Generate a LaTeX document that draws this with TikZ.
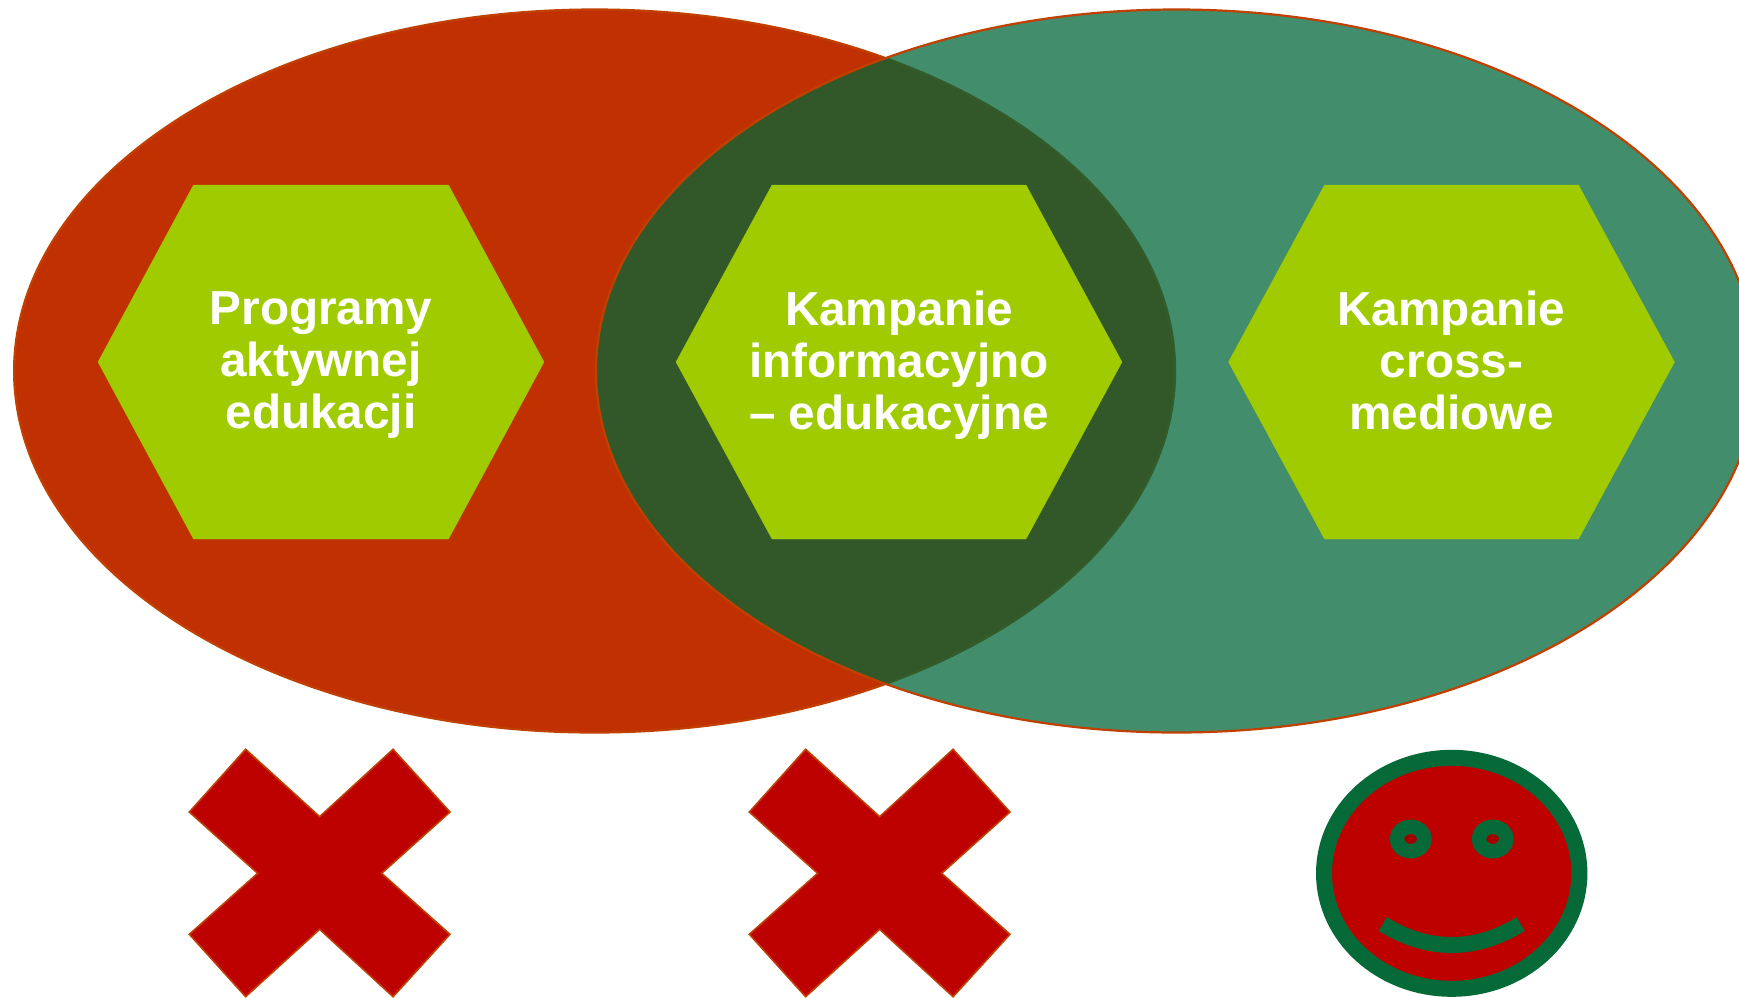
\documentclass[tikz,border=0pt]{standalone}
\usepackage{fontspec}
\setmainfont{Liberation Sans}
\definecolor{leftred}{RGB}{192,48,0}
\definecolor{edgeor}{RGB}{192,64,0}
\definecolor{lensgreen}{RGB}{1,103,57}
\definecolor{deepgreen}{RGB}{6,106,56}
\definecolor{hexgreen}{RGB}{160,203,0}
\definecolor{crossred}{RGB}{189,0,0}
\definecolor{eyered}{RGB}{160,0,0}
\tikzset{
  lens/.style={draw=edgeor,line width=2.2pt},
  hexa/.style={fill=hexgreen,draw=hexgreen,line width=0.3pt},
  hexlabel/.style={text=white,align=center,font=\fontsize{47.7}{52}\selectfont\bfseries,inner sep=0pt},
  crossmark/.style={fill=crossred,draw=edgeor,line width=1.6pt,line join=miter},
  smileline/.style={draw=deepgreen,line width=16pt}
}
\begin{document}
\begin{tikzpicture}[x=1pt,y=-1pt]
\useasboundingbox (0,0) rectangle (1739,997);
\clip (0,0) rectangle (1739,997);
\fill[white] (0,0) rectangle (1739,997);
% ellipses
\draw[lens,fill=leftred] (594.6,371) ellipse [x radius=580.5,y radius=361.5];
\draw[lens,fill=lensgreen,fill opacity=0.74] (1176.5,371) ellipse [x radius=580.5,y radius=361.5];
% hexagons
\foreach \cx/\tw in {321/127.5,899/127,1451.5/127}{
  \draw[hexa] (\cx-223,362) -- (\cx-\tw,185) -- (\cx+\tw,185) -- (\cx+223,362) -- (\cx+\tw,539) -- (\cx-\tw,539) -- cycle;
}
\node[hexlabel] (prog) at (321,365) {Programy\\aktywnej\\edukacji};
\node[hexlabel] (info) at (899,365) {Kampanie\\informacyjno\\– edukacyjne};
\node[hexlabel] (cross) at (1451.5,365) {Kampanie\\cross-\\mediowe\vphantom{j}};
% crosses
\foreach \cx in {319.65,879.65}{
\begin{scope}[shift={(\cx,873)}]
\draw[crossmark] (-74,-123.7) -- (0,-56.3) -- (73.4,-123.7) -- (130.3,-61) -- (62,0.3) -- (130.3,61.3) -- (73.4,123.7) -- (0,56.3) -- (-74,123.7) -- (-130.3,61.3) -- (-62,0.3) -- (-130.3,-61) -- cycle;
\end{scope}
}
% smiley
\draw[fill=crossred,draw=deepgreen,line width=16pt] (1451.7,873.3) ellipse [x radius=127.7,y radius=115.5];
\draw[fill=eyered,draw=deepgreen,line width=14.5pt] (1410.7,839) ellipse [x radius=13.8,y radius=12.2];
\draw[fill=eyered,draw=deepgreen,line width=14.5pt] (1492.7,839) ellipse [x radius=13.8,y radius=12.2];
\draw[smileline] (1382.7,924) .. controls (1428,952) and (1475,952) .. (1520.7,924);
\end{tikzpicture}
\end{document}
